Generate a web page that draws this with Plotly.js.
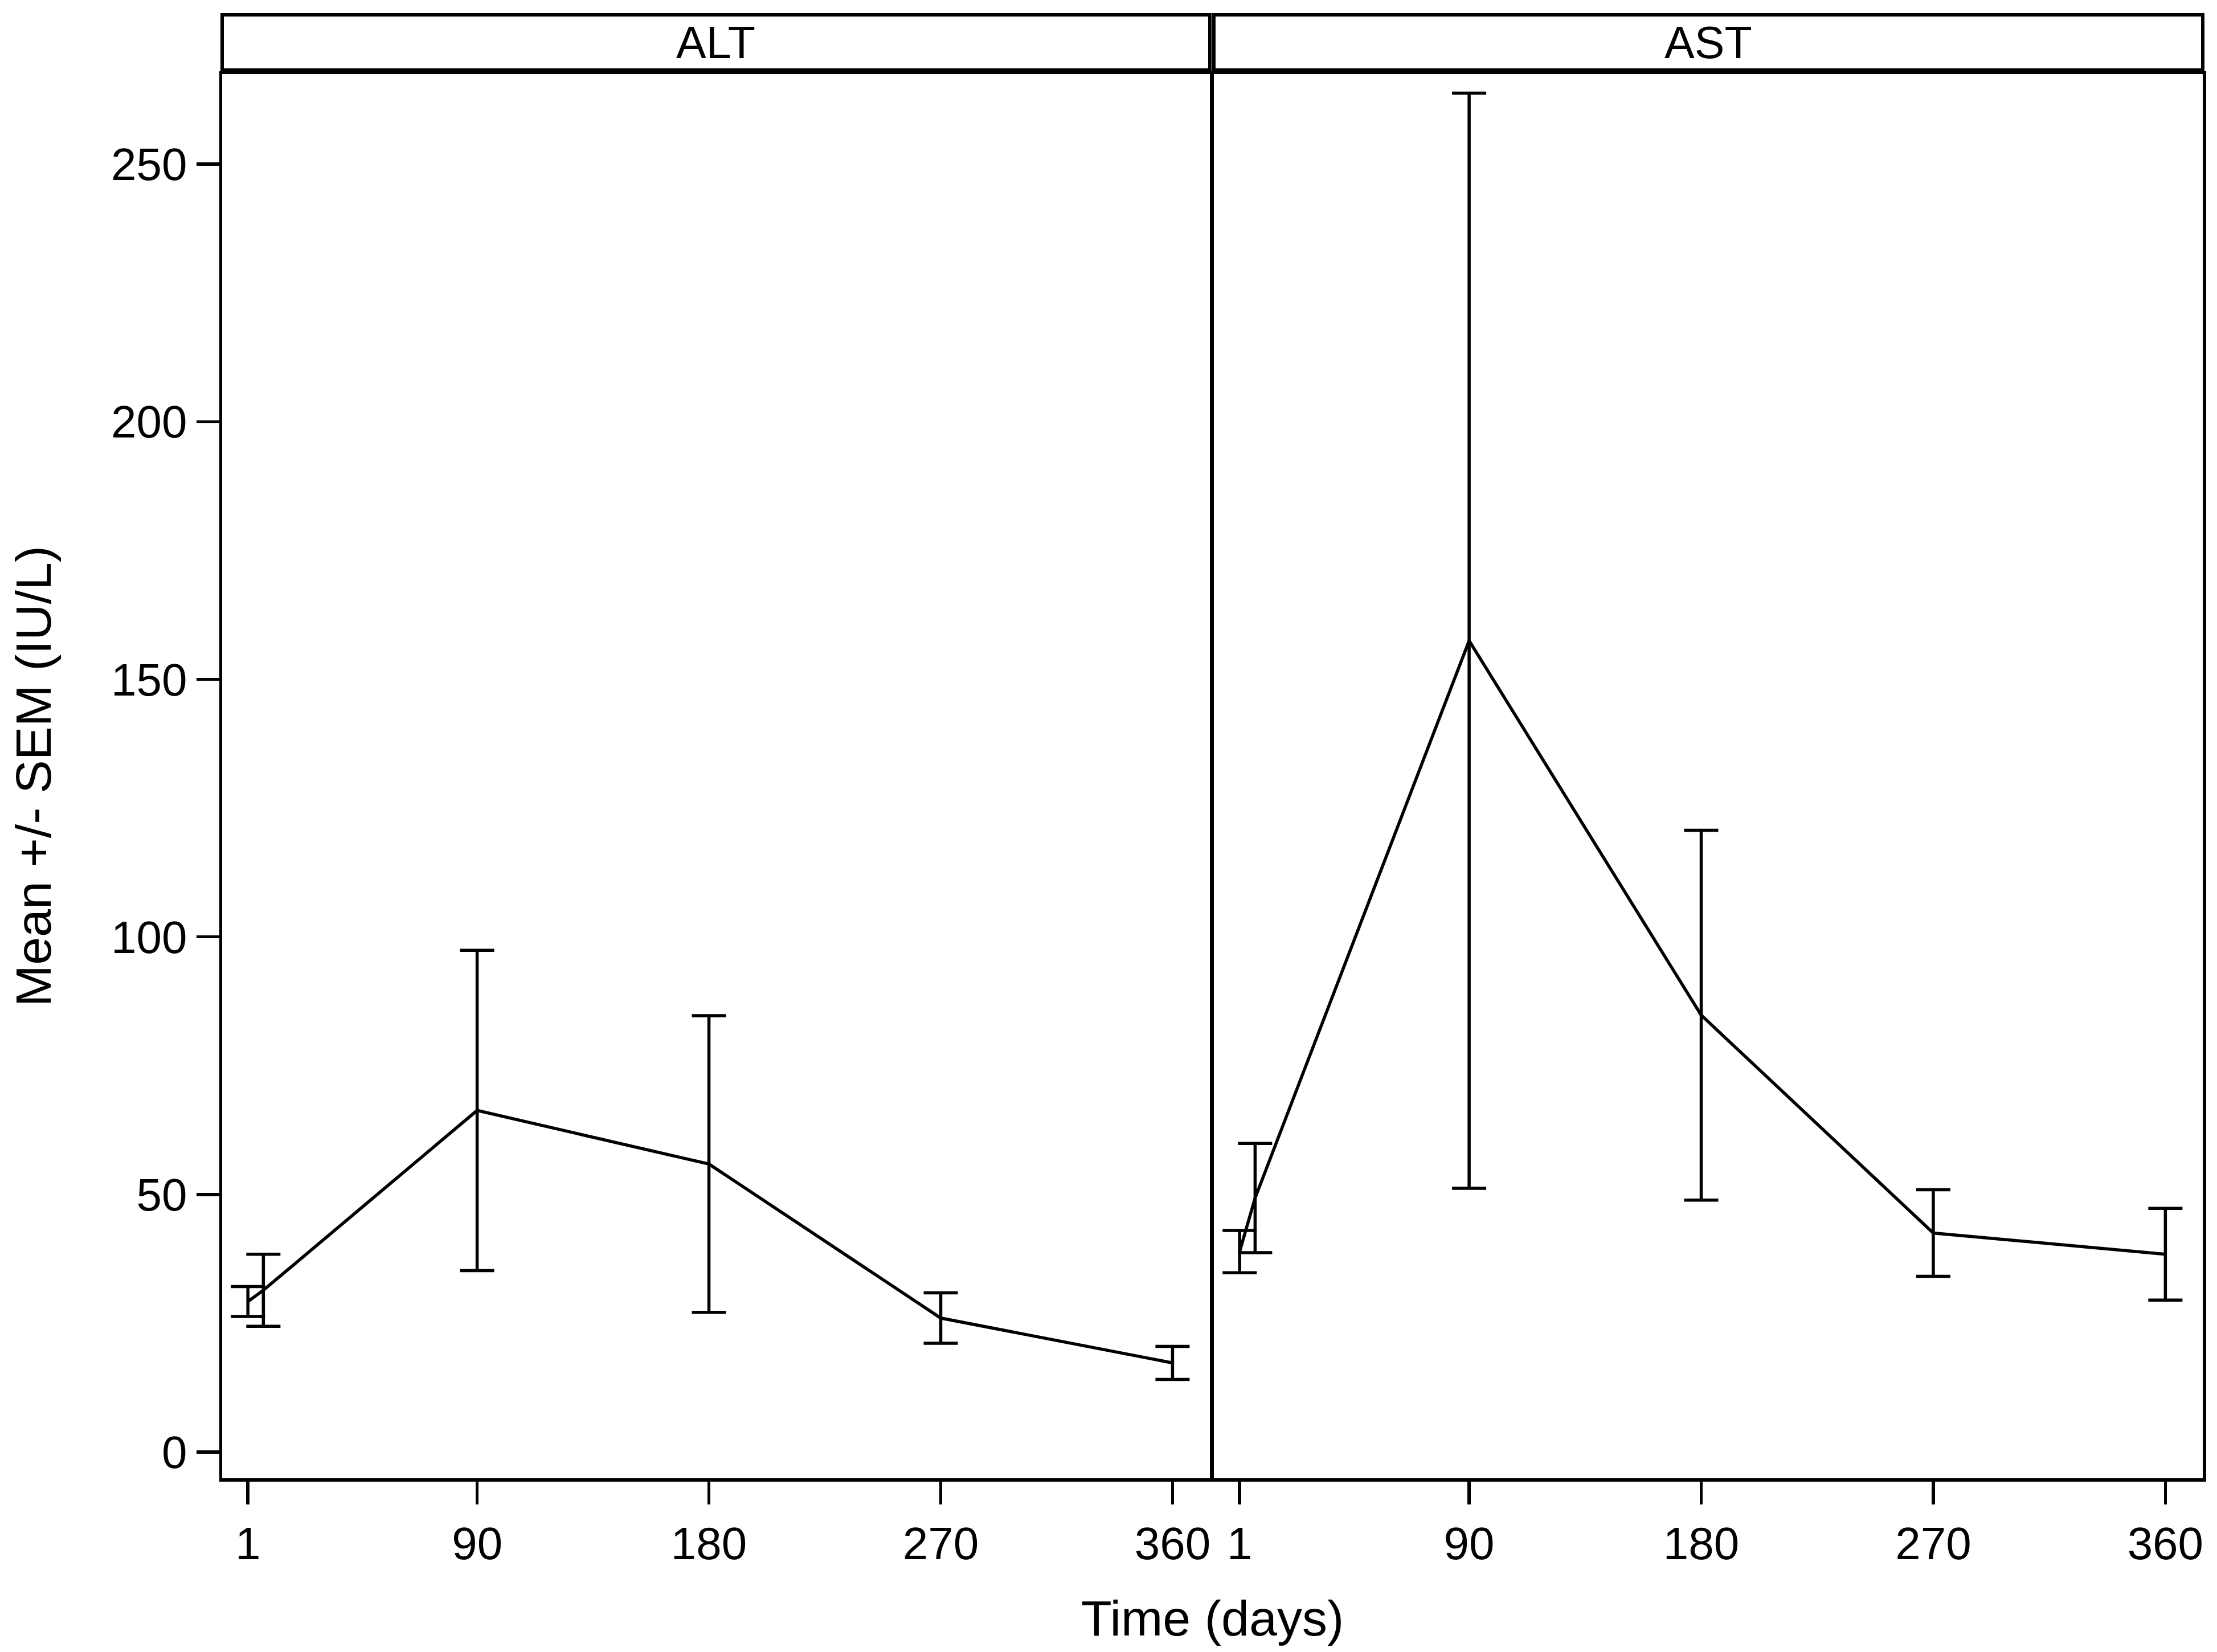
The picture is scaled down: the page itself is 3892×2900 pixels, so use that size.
<!DOCTYPE html>
<html>
<head>
<meta charset="utf-8">
<script src="https://cdn.plot.ly/plotly-3.0.1.min.js"></script>
<style>
  html, body { margin: 0; padding: 0; background: #fff; }
</style>
</head>
<body>
<div id="chart"></div>
<script>
// time points (days) and mean +/- SEM
const DAYS = [1, 7, 90, 180, 270, 360];
const ALT_MEAN = [29.2, 31.4, 66.3, 55.9, 26.0, 17.3];
const ALT_SEM = [2.9, 7.0, 31.1, 28.8, 4.9, 3.2];
const AST_MEAN = [38.9, 49.3, 157.5, 84.8, 42.5, 38.4];
const AST_SEM = [4.1, 10.6, 106.3, 35.9, 8.4, 8.9];
const TICKS = [1, 90, 180, 270, 360];
const PANELS = ["ALT", "AST"];

const FONT = "Liberation Sans, Arial, sans-serif";
const W = 3892, H = 2900;
const M = { l: 390, r: 25, t: 130, b: 305 };
const plotH = H - M.t - M.b;

function makeTrace(means, sems, xa, ya) {
    return {
        x: DAYS,
        y: means,
        xaxis: xa,
        yaxis: ya,
        type: 'scatter',
        mode: 'lines',
        line: { color: '#000', width: 5.5 },
        error_y: {
            type: 'data',
            array: sems,
            visible: true,
            color: '#000',
            thickness: 5.5,
            width: 30
        },
        hoverinfo: 'skip',
        showlegend: false
    };
}

function xAxis(domain, anchor) {
    return {
        domain: domain,
        anchor: anchor,
        range: [-9, 374.5],
        tickvals: TICKS,
        ticktext: TICKS.map(String),
        ticks: 'outside',
        ticklen: 40,
        tickwidth: 5.5,
        tickcolor: '#000',
        showline: true,
        linewidth: 5.5,
        linecolor: '#000',
        mirror: true,
        showgrid: false,
        zeroline: false,
        tickfont: { family: FONT, size: 80, color: '#000' }
    };
}

function yAxis(anchor, showLabels) {
    return {
        anchor: anchor,
        range: [-5.1, 267.5],
        tickvals: [0, 50, 100, 150, 200, 250],
        ticks: showLabels ? 'outside' : '',
        ticklen: 40,
        tickwidth: 5.5,
        tickcolor: '#000',
        showticklabels: showLabels,
        showline: true,
        linewidth: 5.5,
        linecolor: '#000',
        mirror: true,
        showgrid: false,
        zeroline: false,
        tickfont: { family: FONT, size: 80, color: '#000' }
    };
}

const d1 = [0, 0.4987];
const d2 = [0.5007, 1];

// strip header boxes above each panel (paper coords)
const stripY0 = 1 + (M.t - 123) / plotH;
const stripY1 = 1 + (M.t - 26) / plotH;

const shapes = [d1, d2].map(d => ({
    type: 'rect', xref: 'paper', yref: 'paper',
    x0: d[0], x1: d[1], y0: stripY0, y1: stripY1,
    line: { color: '#000', width: 6 },
    fillcolor: 'rgba(0,0,0,0)'
}));

const annotations = [d1, d2].map((d, i) => ({
    text: PANELS[i],
    xref: 'paper', yref: 'paper',
    x: (d[0] + d[1]) / 2, y: (stripY0 + stripY1) / 2,
    xanchor: 'center', yanchor: 'middle',
    showarrow: false,
    font: { family: FONT, size: 79, color: '#000' }
}));

annotations.push({
    text: 'Time (days)',
    xref: 'paper', yref: 'paper',
    x: 0.5, y: -(2840 - (H - M.b)) / plotH,
    xanchor: 'center', yanchor: 'middle',
    showarrow: false,
    font: { family: FONT, size: 88, color: '#000' }
});

const data = [
    makeTrace(ALT_MEAN, ALT_SEM, 'x', 'y'),
    makeTrace(AST_MEAN, AST_SEM, 'x2', 'y2')
];

const layout = {
    width: W,
    height: H,
    margin: M,
    paper_bgcolor: '#fff',
    plot_bgcolor: '#fff',
    font: { family: FONT, color: '#000' },
    xaxis: xAxis(d1, 'y'),
    xaxis2: xAxis(d2, 'y2'),
    yaxis: Object.assign(yAxis('x', true), {
        title: {
            text: 'Mean +/- SEM (IU/L)',
            font: { family: FONT, size: 88, color: '#000' },
            standoff: 78
        }
    }),
    yaxis2: Object.assign(yAxis('x2', false), { matches: 'y' }),
    shapes: shapes,
    annotations: annotations
};

Plotly.newPlot('chart', data, layout, { staticPlot: true, displayModeBar: false });
</script>
</body>
</html>
